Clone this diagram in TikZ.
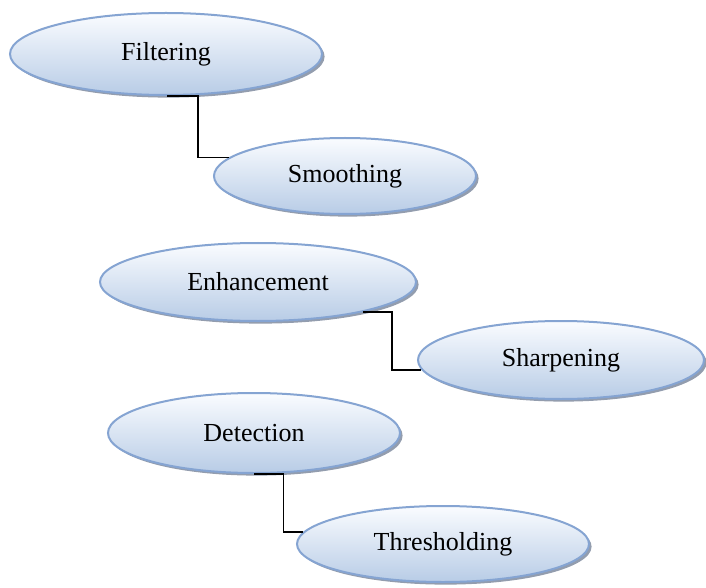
\documentclass[tikz,border=0pt]{standalone}
\usepackage{fontspec}
\setmainfont{Liberation Serif}
\usepackage{tikz}
\usetikzlibrary{shapes.geometric,shadows,calc}
\definecolor{ovalborder}{RGB}{133,164,210}
\definecolor{ovaltop}{RGB}{250,252,255}
\definecolor{ovalbottom}{RGB}{184,204,230}
\definecolor{ovalshadow}{RGB}{128,140,160}

\begin{document}
\begin{tikzpicture}[
  x=0.5pt, y=-0.5pt,
  oval/.style={ellipse, draw=ovalborder, line width=1pt, top color=ovaltop, bottom color=ovalbottom,
    inner sep=0pt, font=\fontsize{13}{15}\selectfont,
    drop shadow={shadow xshift=1.3pt, shadow yshift=-1.3pt, fill=ovalshadow, opacity=0.85}},
  link/.style={draw=black, line width=0.75pt}
]
  \useasboundingbox (0,0) rectangle (706,588);

  \node[oval, minimum width=156pt, minimum height=41pt] (filt) at (166,54) {Filtering};
  \node[oval, minimum width=131pt, minimum height=38pt] (smooth) at (345,176) {Smoothing};
  \node[oval, minimum width=158pt, minimum height=39pt] (enh) at (258,282) {Enhancement};
  \node[oval, minimum width=143pt, minimum height=39pt] (sharp) at (561,360) {Sharpening};
  \node[oval, minimum width=146pt, minimum height=40pt] (det) at (254,433) {Detection};
  \node[oval, minimum width=146pt, minimum height=38pt] (thr) at (443,544) {Thresholding};

  % elbow connectors
  \draw[link] (filt.-88) -| ($(filt.-88)!0.5!(smooth.171)$) |- (smooth.171);
  \draw[link] (enh.-16) -| ($(enh.-16)!0.5!(sharp.184)$) |- (sharp.184);
  \draw[link] (det.south) -| ($(det.south)!0.6!(thr.175)$) |- (thr.175);
\end{tikzpicture}
\end{document}
